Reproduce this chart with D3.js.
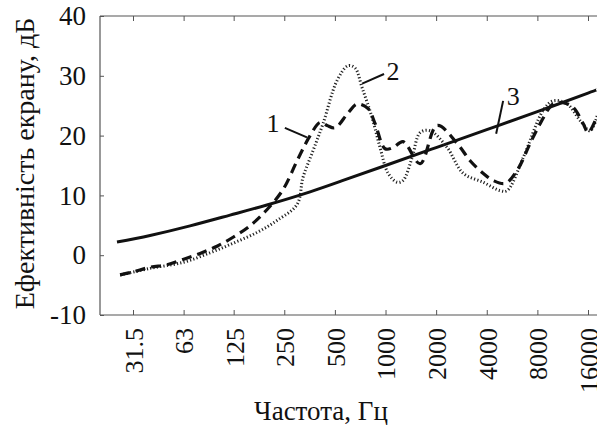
<!DOCTYPE html>
<html>
<head>
<meta charset="utf-8">
<script src="https://cdn.jsdelivr.net/npm/d3@7"></script>
<style>
  body { margin: 0; background: #fff; }
  svg { display: block; font-family: "Liberation Serif", "Times New Roman", serif; }
</style>
</head>
<body>
<div id="chart"></div>
<script>
// tick labels of the frequency axis (Hz)
const freqTicks = [31.5, 63, 125, 250, 500, 1000, 2000, 4000, 8000, 16000];
const dbTicks = [-10, 0, 10, 20, 30, 40];

// curve 1 (dashed)
const freq1 = [26.4, 31.5, 39.8, 50.2, 62.5, 78.9, 99.5, 124, 156, 197, 246, 298, 356, 408, 449, 501, 599, 678, 788, 867, 994, 1109, 1272, 1606, 2027, 2666, 3185, 3806, 4366, 5146, 6066, 7248, 8310, 9929, 11390, 13064, 14975, 16040, 18147];
const db1 = [-3.3, -2.8, -2.0, -1.6, -0.7, 0.3, 1.5, 3.0, 4.9, 7.6, 11.0, 15.8, 20.0, 22.2, 21.7, 21.3, 23.8, 25.3, 24.5, 22.0, 17.8, 18.0, 19.0, 15.3, 21.7, 18.7, 15.8, 13.7, 12.5, 12.0, 14.2, 18.7, 22.0, 25.3, 25.5, 24.7, 22.0, 20.5, 23.3];

// curve 2 (dotted)
const freq2 = [26.4, 39.8, 62.5, 90.5, 124, 172, 226, 298, 323, 371, 425, 515, 599, 659, 726, 832, 928, 1036, 1172, 1272, 1439, 1606, 1842, 2326, 2895, 3806, 4804, 5288, 6586, 8660, 9929, 12030, 14374, 16487, 18147];
const db2 = [-3.3, -2.2, -1.2, 0.4, 2.0, 3.8, 5.8, 8.5, 13.0, 17.5, 22.0, 29.2, 31.7, 31.3, 28.0, 23.0, 18.0, 13.7, 12.2, 12.5, 16.3, 20.5, 20.8, 18.0, 13.7, 12.2, 10.8, 10.8, 16.3, 24.2, 25.8, 25.3, 22.5, 20.8, 23.3];

// curve 3 (solid)
const freq3 = [25.3, 39.8, 68.8, 119, 197, 356, 559, 1000, 2000, 4000, 8000, 16000, 18150];
const db3 = [2.2, 3.3, 4.9, 6.7, 8.4, 10.6, 12.5, 15.0, 18.0, 21.0, 24.0, 27.1, 27.7];

// curve numbers: text position, then leader line ends
const curveLabels = [
  { name: "1", f: 214, v: 22.2, f0: 252, v0: 21.3, f1: 341, v1: 19.7 },
  { name: "2", f: 1109, v: 30.8, f0: 980, v0: 30.3, f1: 726, v1: 28.7 },
  { name: "3", f: 5740, v: 26.7, f0: 5005, v0: 25.8, f1: 4549, v1: 20.3 }
];

const W = 597, H = 425;
const margin = { top: 16, right: -15, bottom: 110, left: 100 };
const w = W - margin.left - margin.right;
const h = H - margin.top - margin.bottom;

const svg = d3.select("#chart").append("svg")
  .attr("width", W)
  .attr("height", H);

const g = svg.append("g")
  .attr("transform", "translate(" + margin.left + "," + margin.top + ")");

var x = d3.scaleLog().base(2)
  .domain([31.5, 16000])
  .range([33, 488]);

var y = d3.scaleLinear()
  .domain([-10, 40])
  .range([h, 0]);

const axisColor = "#555";

// frame: left, top, bottom
g.append("line").attr("x1", 0).attr("x2", 0).attr("y1", 0).attr("y2", h)
  .attr("stroke", axisColor).attr("stroke-width", 1.2);
g.append("line").attr("x1", 0).attr("x2", w).attr("y1", 0).attr("y2", 0)
  .attr("stroke", axisColor).attr("stroke-width", 1.2);
g.append("line").attr("x1", 0).attr("x2", w).attr("y1", h).attr("y2", h)
  .attr("stroke", axisColor).attr("stroke-width", 1.2);

// bottom axis, ticks pointing inside
var xAxis = g.append("g")
  .attr("transform", "translate(0," + h + ")")
  .call(d3.axisBottom(x).tickValues(freqTicks).tickSizeInner(-5).tickSizeOuter(0).tickFormat(d => String(d)));
xAxis.select(".domain").remove();
xAxis.selectAll(".tick line").attr("stroke", axisColor);
xAxis.selectAll(".tick text")
  .attr("transform", "rotate(-90)")
  .attr("text-anchor", "end")
  .attr("x", -13)
  .attr("y", 0)
  .attr("dy", "0.36em")
  .attr("fill", "#111")
  .style("font-size", "26px")
  .style("font-family", "Liberation Serif, serif");

// top ticks
var xTop = g.append("g")
  .call(d3.axisTop(x).tickValues(freqTicks).tickSizeInner(-5).tickSizeOuter(0).tickFormat(""));
xTop.select(".domain").remove();
xTop.selectAll(".tick line").attr("stroke", axisColor);

// left axis
var yAxis = g.append("g")
  .call(d3.axisLeft(y).tickValues(dbTicks).tickSizeInner(-4).tickSizeOuter(0).tickPadding(14).tickFormat(d => String(d)));
yAxis.select(".domain").remove();
yAxis.selectAll(".tick line").attr("stroke", axisColor);
yAxis.selectAll(".tick text")
  .attr("fill", "#111")
  .style("font-size", "27px")
  .style("font-family", "Liberation Serif, serif");

// clip the curves to the plot
svg.append("clipPath").attr("id", "clip")
  .append("rect").attr("width", w).attr("height", h);

var line = d3.line()
  .x(d => x(d[0]))
  .y(d => y(d[1]))
  .curve(d3.curveCatmullRom);

var smooth = d3.line()
  .x(d => x(d[0]))
  .y(d => y(d[1]))
  .curve(d3.curveNatural);

var plot = g.append("g").attr("clip-path", "url(#clip)");

plot.append("path")
  .datum(d3.zip(freq3, db3))
  .attr("d", smooth)
  .attr("fill", "none")
  .attr("stroke", "#111")
  .attr("stroke-width", 3);

plot.append("path")
  .datum(d3.zip(freq2, db2))
  .attr("d", line)
  .attr("fill", "none")
  .attr("stroke", "#222")
  .attr("stroke-width", 3)
  .attr("stroke-dasharray", "1.2,2.2");

plot.append("path")
  .datum(d3.zip(freq1, db1))
  .attr("d", line)
  .attr("fill", "none")
  .attr("stroke", "#111")
  .attr("stroke-width", 3.2)
  .attr("stroke-dasharray", "10,6");

// curve numbers with leader lines
curveLabels.forEach(function(c) {
  g.append("line")
    .attr("x1", x(c.f0)).attr("y1", y(c.v0))
    .attr("x2", x(c.f1)).attr("y2", y(c.v1))
    .attr("stroke", "#111")
    .attr("stroke-width", 2);
  g.append("text")
    .attr("x", x(c.f)).attr("y", y(c.v))
    .attr("dy", "0.35em")
    .attr("text-anchor", "middle")
    .attr("fill", "#111")
    .style("font-size", "26px")
    .text(c.name);
});

// axis titles
svg.append("text")
  .attr("transform", "translate(34," + (margin.top + h / 2 - 2) + ") rotate(-90)")
  .attr("text-anchor", "middle")
  .attr("fill", "#111")
  .style("font-size", "28px")
  .text("Ефективність екрану, дБ");

svg.append("text")
  .attr("x", 321)
  .attr("y", 420)
  .attr("text-anchor", "middle")
  .attr("fill", "#111")
  .style("font-size", "27px")
  .text("Частота, Гц");
</script>
</body>
</html>
